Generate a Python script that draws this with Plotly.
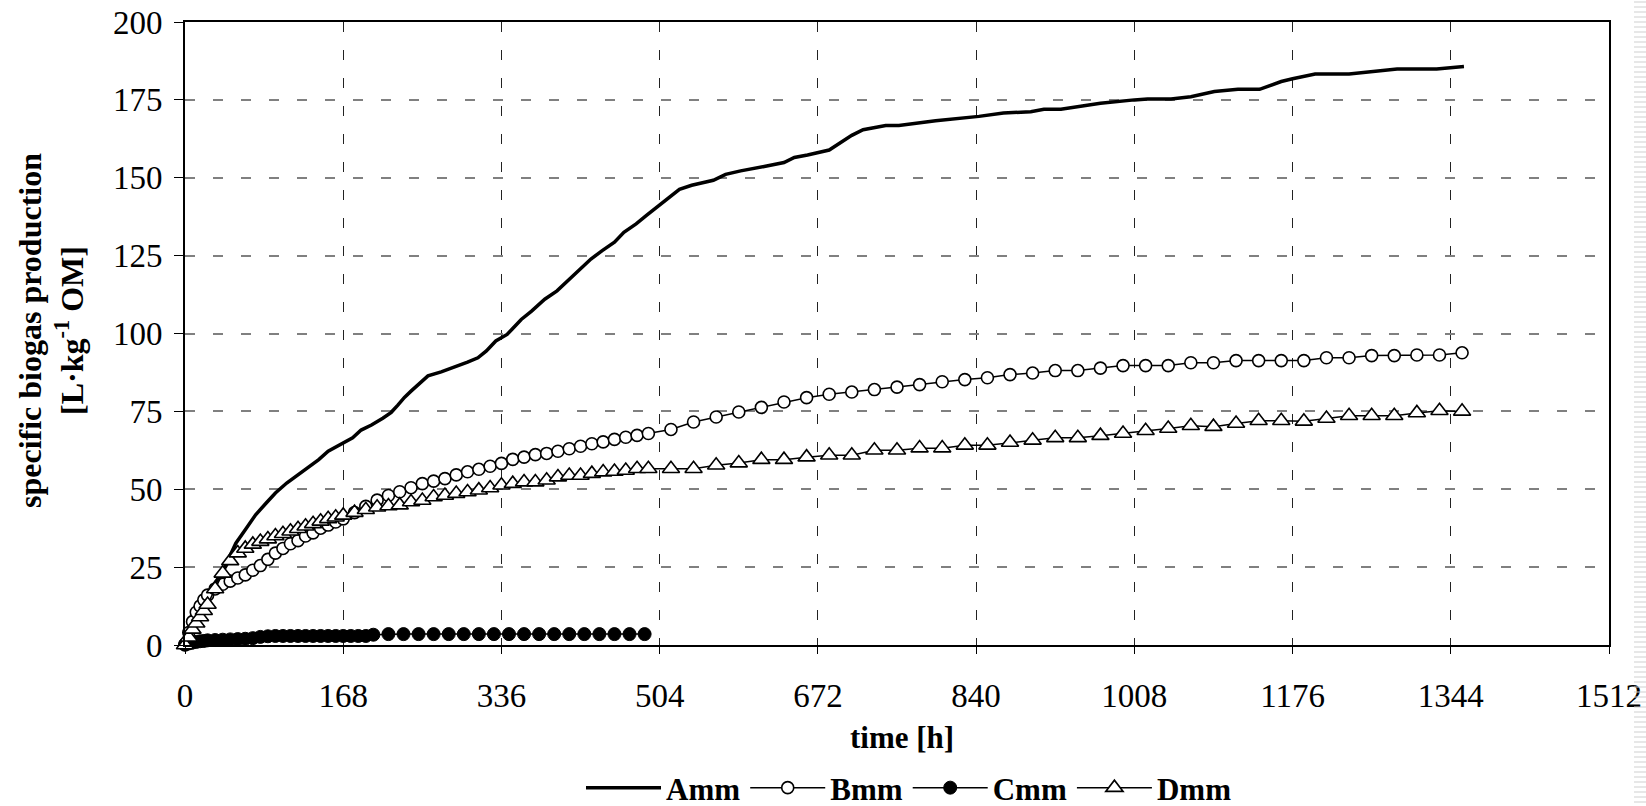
import plotly.graph_objects as go

# ---------------- data ----------------
A_t = [0, 4, 8, 12, 16, 20, 26, 32, 40, 48, 54, 64, 75, 86, 96, 108, 120, 131, 142, 152,
       168, 178, 187, 198, 210, 219, 226, 233, 240, 246, 258, 272, 290, 300, 311, 320, 330,
       342, 347, 357, 368, 382, 395, 406, 418, 431, 443, 456, 466, 479, 490, 504, 515, 525,
       538, 561, 574, 590, 615, 636, 647, 661, 684, 697, 708, 720, 744, 758, 797, 843, 869,
       898, 912, 930, 972, 1008, 1022, 1047, 1068, 1093, 1118, 1141, 1164, 1176, 1200, 1236,
       1262, 1287, 1329, 1358]
A_v = [0, 4, 7, 8.5, 11, 13.5, 16.6, 20, 23.6, 28.5, 32.7, 37, 41.8, 45.5, 48.8, 52, 54.7,
       56.9, 59.5, 62.2, 64.9, 66.5, 69, 70.6, 72.8, 74.7, 77, 79.5, 81.5, 83.2, 86.4, 87.7,
       89.6, 90.8, 92.2, 94.4, 97.6, 99.7, 101.3, 104.5, 107.2, 111, 113.7, 116.9, 120.1,
       123.9, 126.6, 129.3, 132.5, 135.2, 137.9, 141.4, 143.9, 146.3, 147.6, 149.2, 151.1,
       152.2, 153.6, 154.9, 156.5, 157.3, 158.9, 161.6, 163.6, 165.4, 166.8, 166.8, 168.3,
       169.7, 170.8, 171.2, 172, 172, 173.9, 175, 175.3, 175.3, 176, 177.7, 178.4, 178.4,
       180.9, 181.8, 183.3, 183.3, 184.1, 184.9, 184.9, 185.7]

B_t = [0, 4, 8, 12, 16, 20, 24, 32, 40, 48, 56, 64, 72, 80, 88, 96, 104, 112, 120, 128, 136,
       144, 152, 160, 168, 180, 192, 204, 216, 228, 240, 252, 264, 276, 288, 300, 312, 324,
       336, 348, 360, 372, 384, 396, 408, 420, 432, 444, 456, 468, 480, 492, 516, 540, 564,
       588, 612, 636, 660, 684, 708, 732, 756, 780, 804, 828, 852, 876, 900, 924, 948, 972,
       996, 1020, 1044, 1068, 1092, 1116, 1140, 1164, 1188, 1212, 1236, 1260, 1284, 1308,
       1332, 1356]
B_v = [0, 4, 7.5, 10.5, 12.5, 14.5, 16, 18, 19.5, 20.5, 21.5, 22.5, 24, 25.5, 27.5, 29.5, 31,
       32.5, 33.5, 35, 36, 37.5, 38.5, 39.5, 40.5, 42.5, 44.5, 46.5, 48, 49.2, 50.5, 51.8,
       52.6, 53.4, 54.6, 55.6, 56.4, 57.4, 58.3, 59.6, 60.3, 61.1, 61.5, 62.2, 63, 63.8, 64.6,
       65.2, 66, 66.7, 67.3, 67.9, 69.2, 71.6, 73.2, 74.8, 76.3, 78, 79.4, 80.5, 81.2, 82,
       82.8, 83.6, 84.5, 85.2, 85.8, 86.8, 87.3, 88.1, 88.1, 88.9, 89.7, 89.7, 89.7, 90.6,
       90.6, 91.3, 91.3, 91.3, 91.3, 92.2, 92.2, 92.9, 92.9, 93.1, 93.1, 93.8]

C_t = [0, 4, 8, 12, 16, 20, 24, 32, 40, 48, 56, 64, 72, 80, 88, 96, 104, 112, 120, 128, 136,
       144, 152, 160, 168, 176, 184, 192, 200, 216, 232, 248, 264, 280, 296, 312, 328, 344,
       360, 376, 392, 408, 424, 440, 456, 472, 488]
C_v = [0.2, 0.5, 0.8, 1.0, 1.2, 1.3, 1.5, 1.6, 1.7, 1.8, 1.9, 2.0, 2.2, 2.6, 2.8, 2.9, 2.9,
       2.9, 2.9, 2.9, 2.9, 2.9, 2.9, 2.9, 2.9, 2.9, 2.9, 2.9, 3.3, 3.5, 3.5, 3.5, 3.5, 3.5,
       3.5, 3.5, 3.5, 3.5, 3.5, 3.5, 3.5, 3.5, 3.5, 3.5, 3.5, 3.5, 3.5]

D_t = [0, 4, 8, 12, 16, 20, 24, 32, 40, 48, 56, 64, 72, 80, 88, 96, 104, 112, 120, 128, 136,
       144, 152, 160, 168, 180, 192, 204, 216, 228, 240, 252, 264, 276, 288, 300, 312, 324,
       336, 348, 360, 372, 384, 396, 408, 420, 432, 444, 456, 468, 480, 492, 516, 540, 564,
       588, 612, 636, 660, 684, 708, 732, 756, 780, 804, 828, 852, 876, 900, 924, 948, 972,
       996, 1020, 1044, 1068, 1092, 1116, 1140, 1164, 1188, 1212, 1236, 1260, 1284, 1308,
       1332, 1356]
D_v = [0, 2.5, 5, 7, 9, 11, 13, 18, 23, 27, 29.5, 31, 32.3, 33.2, 34, 35, 35.7, 36.5, 37.3,
       38.1, 38.9, 39.7, 40.5, 41, 41.6, 42.5, 43.4, 44.2, 44.6, 44.9, 45.9, 46.4, 47.5, 48,
       48.6, 49.1, 49.7, 50.4, 51.3, 51.8, 52.3, 52.3, 52.9, 53.9, 54.4, 54.4, 55, 55.5, 55.7,
       56, 56.6, 56.6, 56.6, 56.6, 57.7, 58.4, 59.5, 59.5, 60.3, 60.9, 60.9, 62.5, 62.5, 63.2,
       63.2, 64.1, 64.1, 65, 65.7, 66.5, 66.5, 67.2, 67.9, 68.8, 69.5, 70.4, 70.1, 71.1, 72,
       72, 71.8, 72.7, 73.6, 73.6, 73.6, 74.5, 75.2, 75]

x_ticks = [0, 168, 336, 504, 672, 840, 1008, 1176, 1344, 1512]
y_ticks = [0, 25, 50, 75, 100, 125, 150, 175, 200]

# ---------------- figure ----------------
W, H = 1646, 806
L, R, T, B = 185, 37, 22, 161
FONT = "Liberation Serif, Times New Roman, serif"

fig = go.Figure()
fig.add_trace(go.Scatter(x=A_t, y=A_v, mode="lines", name="Amm",
                         line=dict(color="black", width=3.5), cliponaxis=False))
fig.add_trace(go.Scatter(x=B_t, y=B_v, mode="lines+markers", name="Bmm",
                         line=dict(color="black", width=1.5),
                         marker=dict(symbol="circle", size=12, color="white",
                                     line=dict(color="black", width=1.6)),
                         cliponaxis=False))
fig.add_trace(go.Scatter(x=C_t, y=C_v, mode="lines+markers", name="Cmm",
                         line=dict(color="black", width=1.5),
                         marker=dict(symbol="circle", size=13, color="black",
                                     line=dict(color="black", width=1)),
                         cliponaxis=False))
fig.add_trace(go.Scatter(x=D_t, y=D_v, mode="lines+markers", name="Dmm",
                         line=dict(color="black", width=1.5),
                         marker=dict(symbol="triangle-up", size=15, color="white",
                                     line=dict(color="black", width=1.6)),
                         cliponaxis=False))

pw = W - L - R
ph = H - T - B


def px_x(p):
    return (p - L) / pw


def px_y(p):
    return (H - B - p) / ph


fig.update_layout(
    template="none",
    width=W, height=H, autosize=False,
    margin=dict(l=L, r=R, t=T, b=B, pad=0),
    paper_bgcolor="white", plot_bgcolor="white",
    font=dict(family=FONT, color="black", size=30),
    showlegend=True,
    legend=dict(orientation="h", x=px_x(909), xanchor="center",
                yref="container", y=(H - 788) / H, yanchor="middle",
                font=dict(family=FONT, size=31, weight="bold"),
                itemwidth=75, tracegroupgap=0, bgcolor="rgba(0,0,0,0)",
                borderwidth=0),
    xaxis=dict(range=[0, 1512], tickmode="array", tickvals=x_ticks,
               ticktext=[str(v) for v in x_ticks], automargin=False,
               showline=True, mirror=True, linecolor="black", linewidth=2,
               ticks="outside", ticklen=7, tickwidth=1, tickcolor="black",
               showgrid=True, gridcolor="#222222", gridwidth=1, griddash="10px,18px",
               zeroline=False, ticklabelstandoff=13,
               tickfont=dict(family=FONT, size=33)),
    yaxis=dict(range=[0, 200], tickmode="array", tickvals=y_ticks,
               ticktext=[str(v) for v in y_ticks], automargin=False,
               showline=True, mirror=True, linecolor="black", linewidth=2,
               ticks="outside", ticklen=9, tickwidth=1, tickcolor="black",
               showgrid=True, gridcolor="#808080", gridwidth=1.5, griddash="10px,18px",
               zeroline=False, ticklabelstandoff=5,
               tickfont=dict(family=FONT, size=33)),
    annotations=[
        dict(text="<b>time [h]</b>", xref="paper", yref="paper", x=px_x(902), y=px_y(738),
             xanchor="center", yanchor="middle", showarrow=False,
             font=dict(family=FONT, size=31)),
        dict(text="<b>specific biogas production<br>[L·kg<sup>-1</sup> OM]</b>",
             xref="paper", yref="paper", x=px_x(51), y=px_y(331), textangle=-90,
             xanchor="center", yanchor="middle", showarrow=False,
             font=dict(family=FONT, size=32)),
    ],
)

# light striped artefact on the far right edge of the reference image
shapes = []
for yy in range(2, H, 5):
    shapes.append(dict(type="line", xref="paper", yref="paper",
                       x0=px_x(1634), x1=px_x(1646), y0=px_y(yy), y1=px_y(yy),
                       line=dict(color="#cfcfcf", width=1), layer="above"))
fig.update_layout(shapes=shapes)

fig.write_html("out.html", config={"displayModeBar": False},
               post_script="document.body.style.margin='0';")
